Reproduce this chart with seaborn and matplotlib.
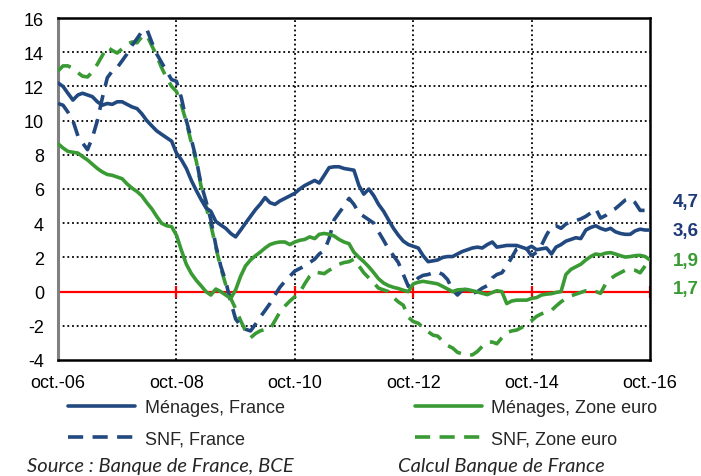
import pandas as pd
import numpy as np
import matplotlib
matplotlib.use('Agg')
import matplotlib.pyplot as plt
import seaborn as sns

sns.set_style('white')
plt.rcParams['font.family'] = ['Liberation Sans', 'DejaVu Sans']

# monthly values, oct-06 .. oct-16 (121 months)
menages_france = [
    12.2, 12.0, 11.6, 11.2, 11.5, 11.6, 11.5, 11.4, 11.1, 10.9,
    11.0, 10.95, 11.1, 11.1, 10.95, 10.8, 10.7, 10.4, 10.0, 9.7,
    9.4, 9.2, 9.0, 8.8, 8.1, 7.7, 7.2, 6.5, 5.9, 5.4,
    4.9, 4.7, 4.1, 3.9, 3.7, 3.4, 3.2, 3.6, 4.0, 4.4,
    4.8, 5.1, 5.5, 5.2, 5.1, 5.3, 5.45, 5.6, 5.75, 6.0,
    6.2, 6.35, 6.5, 6.35, 6.8, 7.25, 7.3, 7.3, 7.2, 7.15,
    7.1, 6.2, 5.7, 6.0, 5.6, 5.1, 4.7, 4.2, 3.7, 3.3,
    2.95, 2.75, 2.65, 2.55, 2.1, 1.75, 1.8, 1.85, 2.0, 2.05,
    2.05, 2.2, 2.35, 2.45, 2.55, 2.6, 2.55, 2.75, 2.9, 2.6,
    2.65, 2.7, 2.7, 2.7, 2.6, 2.5, 2.65, 2.45, 2.5, 2.55,
    2.2, 2.6, 2.75, 2.95, 3.05, 3.15, 3.1, 3.6, 3.75, 3.85,
    3.7, 3.6, 3.7, 3.5, 3.4, 3.35, 3.35, 3.55, 3.65, 3.6,
    3.6]

menages_ze = [
    8.65, 8.4, 8.2, 8.15, 8.1, 7.9, 7.7, 7.45, 7.2, 7.0,
    6.85, 6.8, 6.7, 6.6, 6.3, 6.05, 5.85, 5.6, 5.2, 4.85,
    4.4, 4.0, 3.85, 3.8, 3.3, 2.4, 1.6, 1.05, 0.65, 0.35,
    0.0, -0.2, 0.15, 0.0, -0.2, -0.4, 0.1, 0.9, 1.5, 1.85,
    2.1, 2.3, 2.55, 2.75, 2.85, 2.9, 2.9, 2.75, 2.9, 3.0,
    3.05, 3.2, 3.1, 3.35, 3.4, 3.35, 3.25, 3.05, 2.9, 2.8,
    2.3, 2.0, 1.75, 1.45, 1.1, 0.75, 0.5, 0.35, 0.25, 0.18,
    0.08, 0.0, 0.45, 0.55, 0.6, 0.55, 0.5, 0.45, 0.3, 0.15,
    0.0, 0.1, 0.12, 0.12, 0.05, -0.02, -0.1, -0.18, -0.05, 0.05,
    0.0, -0.7, -0.55, -0.5, -0.5, -0.5, -0.4, -0.35, -0.2, -0.15,
    -0.12, -0.05, 0.0, 1.0, 1.3, 1.45, 1.6, 1.85, 2.05, 2.2,
    2.15, 2.25, 2.28, 2.2, 2.1, 2.02, 2.05, 2.1, 2.12, 2.05,
    1.85]

snf_france = [
    11.0, 10.9, 10.5, 10.0, 9.1, 8.7, 8.3, 9.0, 10.0, 11.3,
    12.5, 12.9, 13.1, 13.5, 13.9, 14.4, 14.8, 15.2, 15.35, 14.6,
    13.9, 13.4, 12.9, 12.4, 12.3, 11.3, 10.0, 8.9, 7.7, 6.3,
    5.3, 4.2, 2.7, 1.5, 0.6, -0.6, -1.6, -2.0, -2.2, -2.3,
    -1.9, -1.5, -1.1, -0.7, -0.2, 0.25, 0.6, 0.9, 1.2, 1.35,
    1.5, 1.7, 1.9, 2.2, 2.4, 3.1, 4.2, 4.6, 5.0, 5.45,
    5.1, 4.6, 4.4, 4.2, 4.0, 3.5, 3.0, 2.5, 2.1, 1.7,
    1.0, 0.3, 0.4, 0.8, 0.95, 1.0, 1.1, 1.15, 1.0, 0.7,
    0.1, -0.2, 0.1, 0.15, -0.1, 0.0, 0.2, 0.35, 0.8, 1.0,
    1.1, 1.5, 2.0, 2.5, 2.6, 2.5, 2.1, 2.3, 2.7, 3.3,
    3.8, 3.85, 3.7, 3.95, 4.1, 4.15, 4.25, 4.4, 4.6, 4.85,
    4.3, 4.45, 4.7, 4.85, 5.1, 5.35, 5.45, 5.2, 4.75, 4.75,
    4.7]

snf_ze = [
    12.9, 13.2, 13.2, 13.05, 12.8, 12.6, 12.55, 12.85, 13.3, 13.8,
    14.3, 14.1, 13.95, 14.2, 14.45, 14.6, 14.55, 14.9, 15.0, 14.4,
    13.8, 13.1, 12.5, 12.0, 11.7, 10.9, 9.9, 8.7, 7.6, 6.2,
    5.0, 3.9, 2.6, 1.4, 0.4, -0.4, -1.0, -1.7, -2.3, -2.7,
    -2.45, -2.3, -2.2, -2.2, -1.7, -1.2, -0.85, -0.55, -0.3, -0.05,
    0.45, 0.9, 1.15, 1.1, 1.05, 1.25, 1.4, 1.6, 1.7, 1.75,
    1.9, 1.5, 1.1, 0.8, 0.5, 0.2, 0.1, 0.0, -0.35, -0.6,
    -0.8, -1.5, -1.75, -1.85, -2.1, -2.35, -2.55, -2.6, -2.9, -3.15,
    -3.3, -3.55, -3.65, -3.7, -3.7, -3.5, -3.2, -2.95, -2.95, -3.05,
    -2.7, -2.4, -2.3, -2.25, -2.1, -1.9, -1.7, -1.45, -1.3, -1.2,
    -1.1, -0.85, -0.6, -0.4, -0.25, -0.15, -0.05, 0.05, 0.0, 0.0,
    -0.1, 0.45, 0.75, 0.95, 1.1, 1.25, 1.3, 1.25, 1.1, 1.5,
    1.75]

series_labels = ['Ménages, France', 'SNF, France', 'Ménages, Zone euro', 'SNF, Zone euro']
end_labels = ['4,7', '3,6', '1,9', '1,7']
tick_labels = ['oct.-06', 'oct.-08', 'oct.-10', 'oct.-12', 'oct.-14', 'oct.-16']
y_ticks = list(range(-4, 17, 2))

blue = '#22497F'
green = '#3A9B35'

dates = pd.date_range('2006-10-01', periods=len(menages_france), freq='MS')
tick_dates = pd.to_datetime(['2006-10-01', '2008-10-01', '2010-10-01',
                             '2012-10-01', '2014-10-01', '2016-10-01'])

fig = plt.figure(figsize=(7.01, 4.77), dpi=100)
ax = fig.add_axes([58 / 701, 1 - 361 / 477, 592 / 701, 342 / 477])

# grid (dotted) drawn first
for yv in y_ticks[1:]:
    if yv != 0:
        ax.axhline(yv, color='black', lw=1.3, ls=(0, (1, 1.6)), zorder=1)
for d in tick_dates[1:-1]:
    ax.axvline(d, color='black', lw=1.3, ls=(0, (1, 1.6)), zorder=1)
ax.axhline(0, color='#FF0000', lw=1.6, zorder=2)
ax.plot(tick_dates, [0] * len(tick_dates), ls='none', marker='|',
        color='#FF0000', markersize=9, mew=1.6, zorder=2)

dash = (0, (4.2, 2.6))
sns.lineplot(x=dates, y=snf_ze, ax=ax, color=green, lw=2.6, linestyle=dash,
             label=series_labels[3], zorder=3)
sns.lineplot(x=dates, y=snf_france, ax=ax, color=blue, lw=2.6, linestyle=dash,
             label=series_labels[1], zorder=4)
sns.lineplot(x=dates, y=menages_ze, ax=ax, color=green, lw=2.6,
             label=series_labels[2], zorder=5)
sns.lineplot(x=dates, y=menages_france, ax=ax, color=blue, lw=2.6,
             label=series_labels[0], zorder=6)

ax.set_xlim(tick_dates[0], tick_dates[-1])
ax.set_ylim(-4, 16)
ax.set_yticks(y_ticks)
ax.set_yticklabels([str(v) for v in y_ticks])
ax.set_xticks(tick_dates)
ax.set_xticklabels(tick_labels)
ax.tick_params(axis='both', length=0, labelsize=13, colors='black')
ax.tick_params(axis='x', pad=10)
ax.tick_params(axis='y', pad=10)
ax.set_xlabel('')
ax.set_ylabel('')

for side in ['top', 'bottom', 'right']:
    ax.spines[side].set_color('black')
    ax.spines[side].set_linewidth(1.8)
ax.spines['left'].set_color('#808080')
ax.spines['left'].set_linewidth(2.2)

# end-of-series values on the right
label_y = [5.25, 3.58, 1.83, 0.18]
label_col = ['#1F3A78', '#1F3A78', green, green]
for txt, yv, c in zip(end_labels, label_y, label_col):
    ax.text(1.039, yv, txt, transform=ax.get_yaxis_transform(), color=c,
            fontsize=13.5, fontweight='bold', va='center', ha='left')

ax.get_legend().remove()
handles, labels = ax.get_legend_handles_labels()
order = [labels.index(l) for l in series_labels]
fig.legend([handles[i] for i in order], [labels[i] for i in order],
           loc='upper left', bbox_to_anchor=(68 / 701, 1 - 400 / 477),
           ncol=2, frameon=False, fontsize=13, handlelength=3.7,
           handletextpad=0.55, columnspacing=7.2, labelspacing=0.78,
           borderpad=0, borderaxespad=0)

fig.text(27 / 701, 1 - 467 / 477, 'Source : Banque de France, BCE',
         fontsize=14.5, style='italic', family=['Lato', 'DejaVu Sans'], va='center')
fig.text(398 / 701, 1 - 467 / 477, 'Calcul Banque de France',
         fontsize=14.5, style='italic', family=['Lato', 'DejaVu Sans'], va='center')

fig.savefig('out.png', dpi=100)
